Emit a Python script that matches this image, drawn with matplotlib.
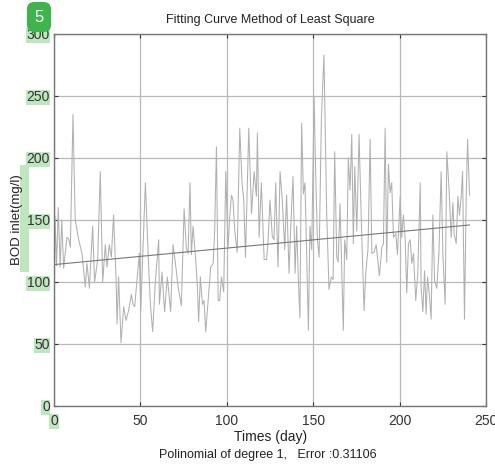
import numpy as np
import matplotlib
matplotlib.use("Agg")
import matplotlib.pyplot as plt
from matplotlib.patches import Rectangle

plt.rcParams["font.family"] = ["Liberation Sans", "DejaVu Sans"]

# ==========================================================
# Data (day, BOD inlet mg/l)
# ==========================================================

days = [
    0, 0.6, 1.5, 2.5, 3.6, 4.5, 5.6, 7.5, 8.5, 9.5, 11.0, 12.3, 14.3, 16.2,
    18.1, 19.1, 20.5, 22.4, 23.5, 25.3, 26.8, 28.2, 29.7, 30.7, 32.0, 33.2,
    34.5, 35.9, 36.5, 37.4, 38.8, 40.3, 41.7, 43.2, 44.8, 45.7, 46.7, 48.0,
    49.4, 50.2, 52.9, 54.8, 55.8, 57.1, 58.7, 60.6,
    61.0, 62.5, 64.0, 65.6, 67.5, 68.9, 70.8, 71.8, 73.7, 75.3, 76.6, 77.6,
    78.7, 79.5, 80.5, 81.8, 83.0, 83.7, 84.7, 85.9, 86.8, 87.8, 89.2, 90.7,
    92.1, 93.0, 94.0, 95.0, 95.9, 96.9, 98.2, 99.4, 100.7, 101.7, 102.7,
    103.6, 104.6, 106.0, 107.5, 108.8, 109.8, 110.8, 112.7, 114.3, 115.8,
    117.1, 117.7, 118.7, 120.0, 121.6,
    123.0, 123.8, 125.0, 126.3, 127.3, 128.3, 129.6, 130.8, 132.1, 133.5,
    134.6, 136.0, 137.0, 138.3, 139.5, 140.4, 141.4, 142.3, 143.3, 144.3,
    145.2, 146.2, 147.2, 148.1, 149.1, 150.5, 151.4, 152.4, 153.4, 154.7,
    156.2, 157.8, 159.1, 160.5, 161.5, 162.4, 163.6, 164.4, 165.5, 167.4,
    168.2, 169.4, 170.3, 171.3, 172.3, 173.2, 174.0, 175.2, 176.5, 177.9,
    179.4, 180.4, 181.7, 182.9,
    183.9, 185.2, 186.4, 188.3, 189.7, 190.6, 191.6, 192.5, 193.5, 194.5,
    195.4, 196.4, 197.8, 198.7, 200.3, 201.2, 202.2, 203.2, 204.1, 205.1,
    206.1, 207.0, 208.0, 209.3, 210.5, 211.9, 212.4, 213.4, 214.4, 215.3,
    216.1, 217.1, 218.2, 219.2, 220.2, 221.5, 222.7, 224.0, 225.0, 226.3,
    227.3, 228.6, 229.8, 230.8, 231.5, 232.7, 233.7, 234.6, 235.6, 236.4,
    237.5, 238.5, 239.3, 240.4,
]

bod = [
    55, 153, 113, 160, 112, 150, 111, 136, 135, 128, 235, 150, 134, 123,
    96, 115, 95, 145, 100, 118, 189, 100, 130, 112, 130, 120,
    154, 104, 66, 104, 51, 80, 69, 77, 90, 82, 80, 101,
    123, 77, 180, 112, 82, 60, 101, 134,
    82, 108, 76, 104, 76, 130, 109, 96, 81, 159, 127, 123,
    180, 122, 145, 122, 96, 68, 104, 82, 85, 60, 85, 112,
    115, 142, 209, 85, 85, 104, 92, 189, 128, 153, 170,
    166, 141, 124, 224, 180, 166, 120, 224, 155, 189,
    169, 220, 136, 180, 118,
    118, 131, 166, 137, 134, 180, 112, 189, 166, 126,
    170, 107, 145, 185, 107, 145, 102, 71, 228, 171,
    180, 123, 61, 145, 126, 250, 188, 134, 120, 231,
    283, 155, 94, 104, 102, 205, 120, 116, 163, 61,
    134, 118, 200, 174, 219, 131, 193, 141, 219, 145,
    77, 107, 127, 215,
    123, 124, 130, 105, 128, 131, 224, 116, 195, 172,
    180, 136, 139, 122, 169, 136, 154, 134, 91, 131,
    134, 115, 123, 85, 107, 180, 96, 76, 109, 74,
    104, 91, 70, 154, 101, 95, 123, 189, 123, 82,
    205, 174, 136, 164, 139, 131, 169, 154, 169, 189,
    70, 169, 215, 170,
]

# straight line of the least square fit (slope, intercept)
fit_coef = [0.133, 114.0]

title = "Fitting Curve Method of Least Square"
xlabel = "Times (day)"
subtitle = "Polinomial of degree 1,   Error :0.31106"
ylabel = "BOD inlet(mg/l)"

# ==========================================================
# Figure
# ==========================================================

fig = plt.figure(figsize=(4.95, 4.68), dpi=100)

# green highlight behind the y label (drawn first, under everything)
fig.patches.append(Rectangle((20 / 495, 1 - 272 / 468), 9 / 495, 107 / 468,
                             transform=fig.transFigure, facecolor="#bde8bd",
                             edgecolor="none", zorder=-1))

ax = fig.add_axes([0.109, 0.1325, 0.873, 0.795])

ax.plot(days, bod, color="#b0b0b0", linewidth=0.75)

fit_x = np.array([days[0], days[-1]])
ax.plot(fit_x, np.polyval(fit_coef, fit_x), color="#777777", linewidth=0.8)

ax.set_xlim(0, 250)
ax.set_ylim(0, 300)
ax.set_xticks(np.arange(0, 251, 50))
ax.set_yticks(np.arange(0, 301, 50))

ax.grid(True, color="#b8b8b8", linewidth=0.9)
ax.set_axisbelow(True)

ax.tick_params(direction="in", length=3, width=0.8, top=True, right=True,
               labelsize=10, colors="#333333", pad=3)
ax.tick_params(axis="x", pad=6)
for side in ax.spines.values():
    side.set_color("#777777")
    side.set_linewidth(1.0)

# green highlight marks from the source picture
for lbl in ax.get_yticklabels():
    lbl.set_bbox(dict(facecolor="#bde8bd", edgecolor="none", pad=0.5))
ax.get_xticklabels()[0].set_bbox(dict(facecolor="#bde8bd", edgecolor="none", pad=0.5))

ax.set_title(title, fontsize=9, color="#222222", pad=8)

fig.text(17 / 495, 1 - 220 / 468, ylabel, rotation=90, ha="center",
         va="center", fontsize=9.5, color="#222222", zorder=5)
fig.text(271 / 495, 1 - 437 / 468, xlabel, ha="center", va="center",
         fontsize=10, color="#222222")
fig.text(268 / 495, 1 - 455 / 468, subtitle, ha="center", va="center",
         fontsize=9, color="#222222")

fig.text(39 / 495, 1 - 17 / 468, "5", ha="center", va="center",
         fontsize=12, color="white", zorder=5,
         bbox=dict(boxstyle="round,pad=0.45", facecolor="#3db54a",
                   edgecolor="none"))

plt.savefig("out.png", dpi=100)
